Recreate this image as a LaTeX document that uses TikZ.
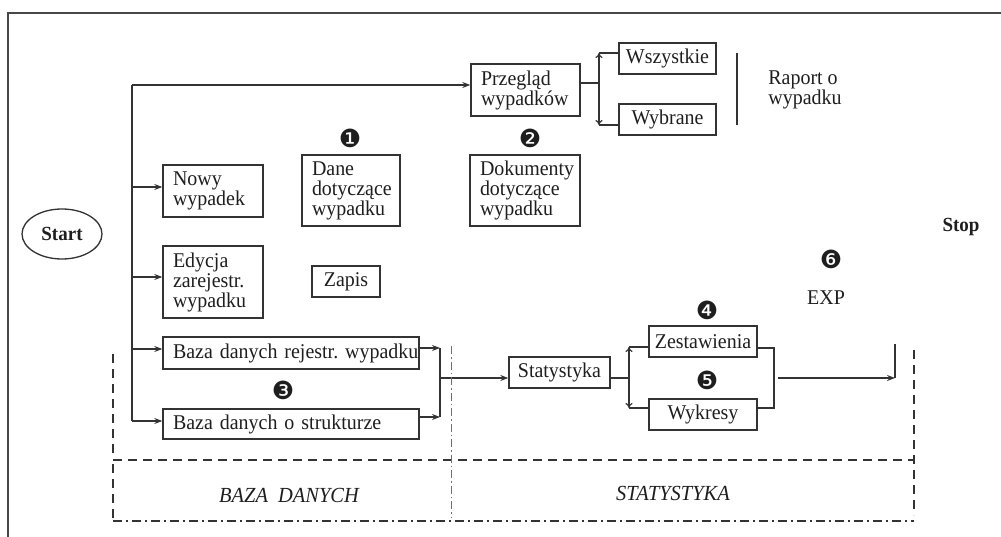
\documentclass[tikz,border=0pt]{standalone}
\usepackage{fontspec}
\setmainfont[FakeStretch=0.95]{Liberation Serif}
\newfontfamily\dingfont{DejaVu Sans}
\usetikzlibrary{arrows.meta,shapes.geometric}
\definecolor{lc}{HTML}{333333}
\definecolor{tc}{HTML}{1E1E1E}
\newcommand\fsz{\fontsize{21}{20}\selectfont}
\tikzset{
  box/.style={draw=lc, line width=1.4pt, inner xsep=10pt, inner ysep=0pt, font=\fsz, text=tc, align=left},
  conn/.style={draw=lc, line width=1.2pt},
  arr/.style={conn, -{Stealth[length=8pt,width=6pt]}},
  darr/.style={conn, {To[length=5pt,width=7pt]}-{To[length=5pt,width=7pt]}},
  num/.style={font=\dingfont\fontsize{25}{25}\selectfont, text=tc, inner sep=0pt},
  lbl/.style={font=\fsz, text=tc, inner sep=0pt, align=left},
  dsh/.style={draw=lc, line width=1.3pt, dash pattern=on 9pt off 6pt},
  dshdot/.style={draw=lc, line width=1.3pt, dash pattern=on 9pt off 4pt on 2pt off 4pt},
  thindot/.style={draw=lc!70, line width=0.8pt, dash pattern=on 8pt off 3pt on 1.5pt off 3pt},
}
\begin{document}
\begin{tikzpicture}[x=1pt,y=-1pt]
\useasboundingbox (0,0) rectangle (1001,537);
% outer border
\draw[draw=lc!90, line width=1.8pt] (1001,13) -- (8,13) -- (8,537);

% start / stop
\node[ellipse, draw=lc, line width=1.3pt, minimum width=80pt, minimum height=50pt, inner sep=0pt,
      font=\fontsize{20}{20}\selectfont\bfseries, text=tc] (start) at (62,234) {Start};
\node[font=\fontsize{20}{20}\selectfont\bfseries, text=tc, inner sep=0pt] (stop) at (961,227) {Stop};

% boxes
\node[box, minimum width=109pt, minimum height=52pt, text width=89pt] (przeglad) at (525.5,90) {Przegląd\\wypadków};
\node[box, minimum width=97pt, minimum height=31pt, inner xsep=2pt, align=center] (wszystkie) at (667.5,58.5) {Wszystkie};
\node[box, minimum width=97pt, minimum height=31pt, inner xsep=2pt, align=center] (wybrane) at (667.5,119.5) {Wybrane};
\node[box, minimum width=100pt, minimum height=52pt, text width=80pt] (nowy) at (213,191) {Nowy\\wypadek};
\node[box, minimum width=98pt, minimum height=71pt, text width=78pt] (dane) at (351,190.5) {Dane\\dotyczące\\wypadku};
\node[box, minimum width=110pt, minimum height=71pt, text width=90pt] (dokumenty) at (525,190.5) {\mbox{Dokumenty}\\dotyczące\\wypadku};
\node[box, minimum width=100pt, minimum height=72pt, text width=80pt] (edycja) at (213,282) {Edycja\\zarejestr.\\wypadku};
\node[box, minimum width=68pt, minimum height=31pt, inner xsep=2pt, align=center] (zapis) at (346,281.5) {Zapis};
\node[box, minimum width=256pt, minimum height=32pt, text width=236pt] (bazarej) at (291,353) {\mbox{Baza danych rejestr.\ wypadku}};
\node[box, minimum width=256pt, minimum height=30pt, text width=236pt] (bazastr) at (291,424) {\mbox{Baza danych o strukturze}};
\node[box, minimum width=101pt, minimum height=31pt, inner xsep=2pt, align=center] (statystyka) at (559.5,372.5) {Statystyka};
\node[box, minimum width=108pt, minimum height=31pt, inner xsep=2pt, align=center] (zestawienia) at (703,341.5) {Zestawienia};
\node[box, minimum width=108pt, minimum height=31pt, inner xsep=2pt, align=center] (wykresy) at (703,414.5) {Wykresy};

% labels
\node[lbl] (raport) at (805,90) {Raport o\\wypadku};
\node[lbl] (exp) at (826,298) {EXP};
\node[num] (n1) at (350,138) {❶};
\node[num] (n2) at (530,138) {❷};
\node[num] (n3) at (283,390) {❸};
\node[num] (n4) at (707,310) {❹};
\node[num] (n5) at (707,380) {❺};
\node[num] (n6) at (831,259) {❻};

% main trunk
\coordinate (t0) at (132,85);
\coordinate (t4) at (132,421);
\draw[conn] (t0) -- (t4);
\draw[arr] (t0) -- (przeglad.west |- t0);
\draw[arr] (132,187) -- (nowy.west |- 0,187);
\draw[arr] (132,277) -- (edycja.west |- 0,277);
\draw[arr] (132,349) -- (bazarej.west |- 0,349);
\draw[arr] (t4) -- (bazastr.west |- t4);

% przeglad branch
\coordinate (pj) at (599,83);
\coordinate (pt) at (599,53);
\coordinate (pb) at (599,125);
\draw[conn] (przeglad.east |- pj) -- (pj);
\draw[darr] (pt) -- (pb);
\draw[conn] (pt) -- (wszystkie.west |- pt);
\draw[conn] (pb) -- (wybrane.west |- pb);
\draw[conn] (737,53) -- (737,125);

% baza -> statystyka
\coordinate (bj1) at (440,348);
\coordinate (bj2) at (440,417);
\coordinate (bjm) at (440,378);
\draw[arr] (bazarej.east |- bj1) -- (bj1);
\draw[arr] (bazastr.east |- bj2) -- (bj2);
\draw[conn] (bj1) -- (bj2);
\draw[arr] (bjm) -- (statystyka.west |- bjm);

% statystyka branch
\coordinate (sj) at (629,378);
\coordinate (st) at (629,347);
\coordinate (sb) at (629,408);
\draw[conn] (statystyka.east |- sj) -- (sj);
\draw[darr] (st) -- (sb);
\draw[conn] (st) -- (zestawienia.west |- st);
\draw[conn] (sb) -- (wykresy.west |- sb);

% merge -> exit
\coordinate (mj1) at (774,348);
\coordinate (mj2) at (774,408);
\draw[conn] (zestawienia.east |- mj1) -- (mj1) -- (mj2) -- (wykresy.east |- mj2);
\coordinate (ex) at (895,378);
\draw[arr] (778,378) -- (ex);
\draw[conn] (895,344) -- (ex);

% dashed regions
\draw[dsh] (113,354) -- (113,456);
\draw[dsh] (113,460) -- (914,460);
\draw[dsh] (914,350) -- (914,515);
\draw[dsh] (113,464) -- (113,521);
\draw[dshdot] (113,521) -- (914,521);
\draw[thindot] (451,346) -- (451,517);
\node[font=\fontsize{21.5}{21.5}\selectfont\itshape, text=tc, inner sep=0pt] (lbaza) at (289,495) {BAZA\ \ DANYCH};
\node[font=\fontsize{21.5}{21.5}\selectfont\itshape, text=tc, inner sep=0pt] (lstat) at (673,493) {STATYSTYKA};
\end{tikzpicture}
\end{document}
